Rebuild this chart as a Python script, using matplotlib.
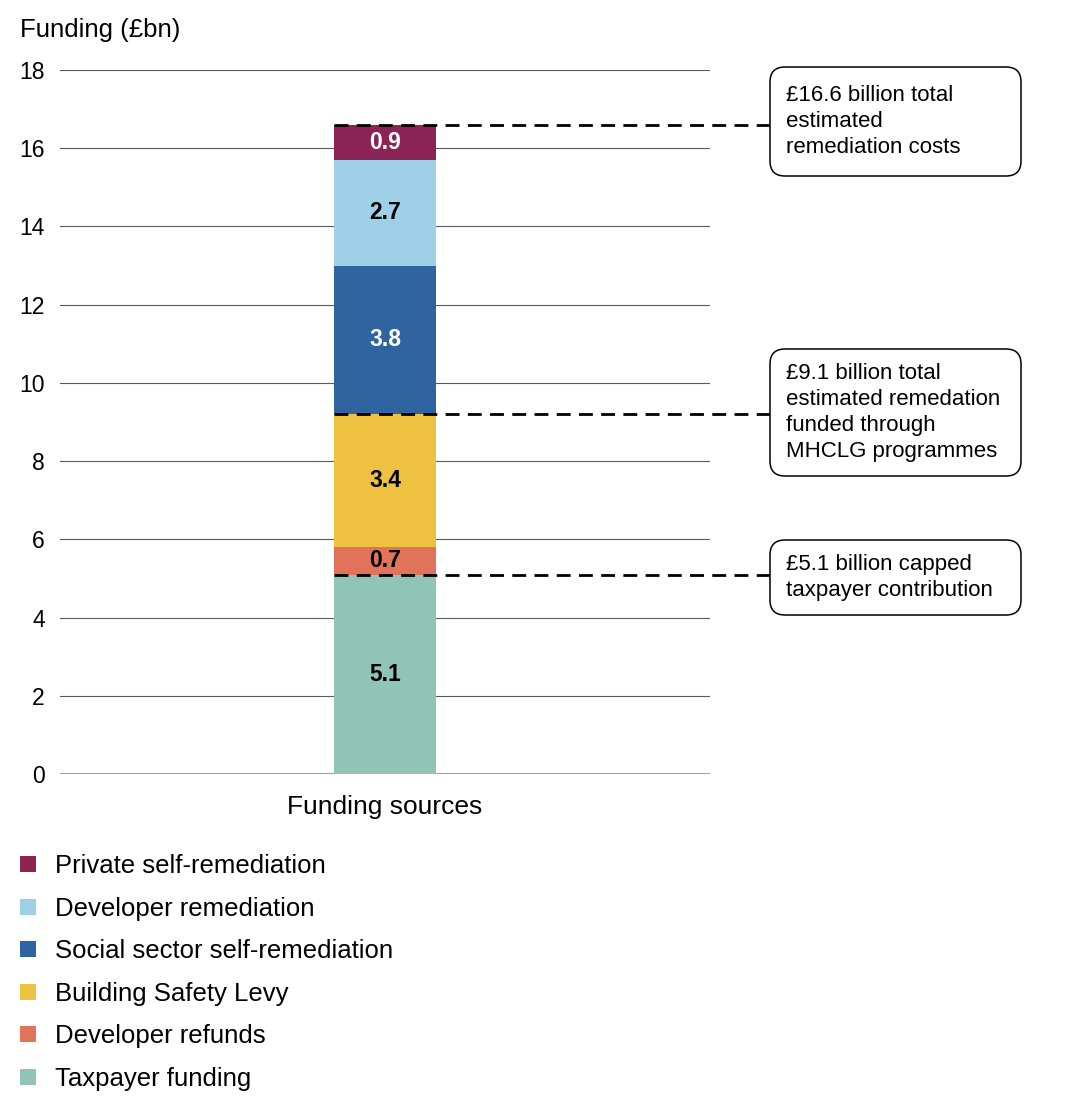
import matplotlib.pyplot as plt
from matplotlib.patches import FancyBboxPatch, Patch

plt.rcParams['font.family'] = ['Liberation Sans', 'DejaVu Sans']

categories = ['Taxpayer funding', 'Developer refunds', 'Building Safety Levy',
              'Social sector self-remediation', 'Developer remediation',
              'Private self-remediation']
values = [5.1, 0.7, 3.4, 3.8, 2.7, 0.9]
colors = ['#8fc4b7', '#e0735a', '#eec140', '#2f64a0', '#a0cfe8', '#8b2355']
label_colors = ['black', 'black', 'black', 'white', 'black', 'white']
x_label = 'Funding sources'

# dashed markers: (level on the y axis, callout text)
callout_levels = [16.6, 9.2, 5.1]
callout_texts = ['£16.6 billion total\nestimated\nremediation costs',
                 '£9.1 billion total\nestimated remedation\nfunded through\nMHCLG programmes',
                 '£5.1 billion capped\ntaxpayer contribution']

W, H = 10.68, 11.12
fig = plt.figure(figsize=(W, H), dpi=100)
ax = fig.add_axes([60 / 1068, 338 / 1112, 650 / 1068, 704 / 1112])

bottom = 0
for v, c, lc in zip(values, colors, label_colors):
    ax.bar(0, v, width=0.157, bottom=bottom, color=c, zorder=2)
    ax.text(0, bottom + v / 2, '%.1f' % v, ha='center', va='center',
            color=lc, fontsize=16.5, fontweight='bold', zorder=3)
    bottom += v

ax.set_xlim(-0.5, 0.5)
ax.set_ylim(0, 18)
ax.set_yticks(range(0, 19, 2))
ax.set_xticks([0])
ax.set_xticklabels([x_label])
ax.tick_params(axis='both', length=0, labelsize=16.5)
ax.tick_params(axis='y', pad=11)
ax.tick_params(axis='x', pad=15, labelsize=19)
ax.grid(axis='y', color='#5a5a5a', linewidth=0.8, zorder=0)
ax.axhline(0, color='#9a9a9a', linewidth=2, zorder=1)
for s in ax.spines.values():
    s.set_visible(False)

fig.text(20 / 1068, 1 - 30 / 1112, 'Funding (£bn)', fontsize=18.5,
         ha='left', va='center')

# callout boxes, in pixels from the top of the figure
boxes = [(67, 176), (349, 476), (540, 615)]
x_box = -0.5 + (770 - 60) / 650
for lvl, txt, (top, bot) in zip(callout_levels, callout_texts, boxes):
    ax.plot([-0.0785, x_box], [lvl, lvl], color='black', lw=2,
            dashes=(5, 3), clip_on=False, zorder=4)
    box = FancyBboxPatch((7.70, (1112 - bot) / 100), 2.51, (bot - top) / 100,
                         boxstyle='round,pad=0,rounding_size=0.15',
                         transform=fig.dpi_scale_trans, facecolor='white',
                         edgecolor='black', linewidth=1.1)
    fig.add_artist(box)
    fig.text(7.86 / W, 1 - (top + (bot - top) / 2) / 1112, txt, fontsize=16,
             ha='left', va='center', linespacing=1.33)

handles = [Patch(facecolor=c, label=n) for n, c in zip(categories, colors)]
fig.legend(handles=handles[::-1], loc='upper left',
           bbox_to_anchor=(10 / 1068, 1 - 844 / 1112), frameon=False,
           fontsize=18.5, handlelength=0.6, handleheight=0.6,
           handletextpad=0.75, labelspacing=0.72, borderaxespad=0)

fig.savefig('out.png', dpi=100)
